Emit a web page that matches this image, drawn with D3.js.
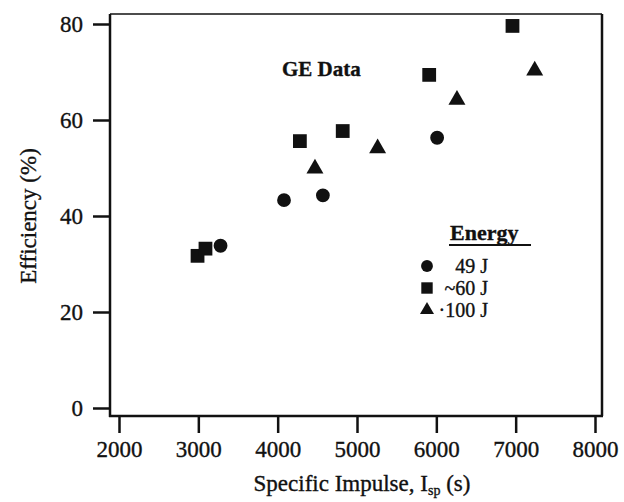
<!DOCTYPE html>
<html>
<head>
<meta charset="utf-8">
<script src="https://cdn.jsdelivr.net/npm/d3@7"></script>
<style>
  body { margin: 0; background: #fff; }
  text { font-family: "Liberation Serif", "DejaVu Serif", serif; fill: #111; stroke: #111; stroke-width: 0.35px; }
</style>
</head>
<body>
<div id="viewer"></div>
<script>
// Data: specific impulse (s) vs efficiency (%)
const circles49J = [
  { isp: 3280, eff: 33.8 },
  { isp: 4080, eff: 43.3 },
  { isp: 4570, eff: 44.3 },
  { isp: 6010, eff: 56.3 }
];
const squares60J = [
  { isp: 2990, eff: 31.7 },
  { isp: 3090, eff: 33.2 },
  { isp: 4280, eff: 55.6 },
  { isp: 4820, eff: 57.7 },
  { isp: 5910, eff: 69.4 },
  { isp: 6960, eff: 79.6 }
];
const triangles100J = [
  { isp: 4470, eff: 49.9 },
  { isp: 5260, eff: 54.1 },
  { isp: 6260, eff: 64.2 },
  { isp: 7240, eff: 70.3 }
];
const xTicks = [2000, 3000, 4000, 5000, 6000, 7000, 8000];
const yTicks = [0, 20, 40, 60, 80];
const legendLabels = ["49 J", "~60 J", "\u00b7100 J"];

const width = 624, height = 502;
const frame = { left: 110, right: 602, top: 14, bottom: 416 };

const svg = d3.select("#viewer")
  .append("svg")
  .attr("width", width)
  .attr("height", height);

const x = d3.scaleLinear().domain([2000, 8000]).range([119, 595]);
const y = d3.scaleLinear().domain([0, 80]).range([408, 24]);

// frame (top line is thinner in the scan)
svg.append("line").attr("x1", frame.left).attr("x2", frame.right)
  .attr("y1", frame.top).attr("y2", frame.top)
  .attr("stroke", "#111").attr("stroke-width", 1.5);
svg.append("line").attr("x1", frame.right).attr("x2", frame.right)
  .attr("y1", frame.top).attr("y2", frame.bottom)
  .attr("stroke", "#111").attr("stroke-width", 2.5);

// y axis
const yAxis = d3.axisLeft(y).tickValues(yTicks).tickSize(17).tickPadding(10)
  .tickFormat(d3.format("d"));
const gy = svg.append("g").attr("transform", `translate(${frame.left},0)`).call(yAxis);
gy.select(".domain").remove();
gy.append("line").attr("x1", 0).attr("x2", 0)
  .attr("y1", frame.top).attr("y2", frame.bottom + 1)
  .attr("stroke", "#111").attr("stroke-width", 2.5);
gy.selectAll(".tick line").attr("stroke", "#111").attr("stroke-width", 2.5);
gy.selectAll(".tick text").style("font-size", "23px")
  .style("font-family", "'Liberation Serif', serif").attr("fill", "#111");

// x axis
const xAxis = d3.axisBottom(x).tickValues(xTicks).tickSize(17).tickPadding(8)
  .tickFormat(d3.format("d"));
const gx = svg.append("g").attr("transform", `translate(0,${frame.bottom})`).call(xAxis);
gx.select(".domain").remove();
gx.append("line").attr("x1", frame.left - 1).attr("x2", frame.right + 1)
  .attr("y1", 0).attr("y2", 0)
  .attr("stroke", "#111").attr("stroke-width", 2.5);
gx.selectAll(".tick line").attr("stroke", "#111").attr("stroke-width", 2.5);
gx.selectAll(".tick text").style("font-size", "23px")
  .style("font-family", "'Liberation Serif', serif").attr("fill", "#111");

// axis titles
svg.append("text")
  .attr("transform", "translate(36,216) rotate(-90)")
  .attr("text-anchor", "middle")
  .style("font-size", "23px")
  .text("Efficiency (%)");

const xt = svg.append("text")
  .attr("x", 362).attr("y", 491)
  .attr("text-anchor", "middle")
  .style("font-size", "23px");
xt.append("tspan").text("Specific Impulse, I");
xt.append("tspan").attr("dy", 4).style("font-size", "14px").text("sp");
xt.append("tspan").attr("dy", -4).text(" (s)");

svg.append("text")
  .attr("x", 282).attr("y", 76)
  .style("font-size", "21px").style("font-weight", "bold")
  .text("GE Data");

// markers
const circ = d3.symbol().type(d3.symbolCircle).size(150);
const sq = d3.symbol().type(d3.symbolSquare).size(190);
const tri = d3.symbol().type(d3.symbolTriangle).size(125);

svg.selectAll("path.c49").data(circles49J).enter().append("path")
  .attr("class", "c49").attr("d", circ)
  .attr("transform", d => `translate(${x(d.isp)},${y(d.eff)})`)
  .attr("fill", "#111");
svg.selectAll("path.s60").data(squares60J).enter().append("path")
  .attr("class", "s60").attr("d", sq)
  .attr("transform", d => `translate(${x(d.isp)},${y(d.eff)})`)
  .attr("fill", "#111");
svg.selectAll("path.t100").data(triangles100J).enter().append("path")
  .attr("class", "t100").attr("d", tri)
  .attr("transform", d => `translate(${x(d.isp)},${y(d.eff)})`)
  .attr("fill", "#111");

// legend
const lg = svg.append("g");
lg.append("text").attr("x", 450).attr("y", 240)
  .style("font-size", "22px").style("font-weight", "bold")
  .text("Energy");
lg.append("line").attr("x1", 449).attr("x2", 531)
  .attr("y1", 245).attr("y2", 245)
  .attr("stroke", "#111").attr("stroke-width", 2);

const legendSymbols = [
  d3.symbol().type(d3.symbolCircle).size(110),
  d3.symbol().type(d3.symbolSquare).size(130),
  d3.symbol().type(d3.symbolTriangle).size(85)
];
const rowY = d3.scalePoint().domain(legendLabels).range([266, 310]);
legendLabels.forEach((lab, i) => {
  lg.append("path").attr("d", legendSymbols[i])
    .attr("transform", `translate(427,${rowY(lab)})`)
    .attr("fill", "#111");
  lg.append("text").attr("x", 488).attr("y", rowY(lab) + 7)
    .attr("text-anchor", "end")
    .style("font-size", "20px")
    .text(lab);
});
</script>
</body>
</html>
